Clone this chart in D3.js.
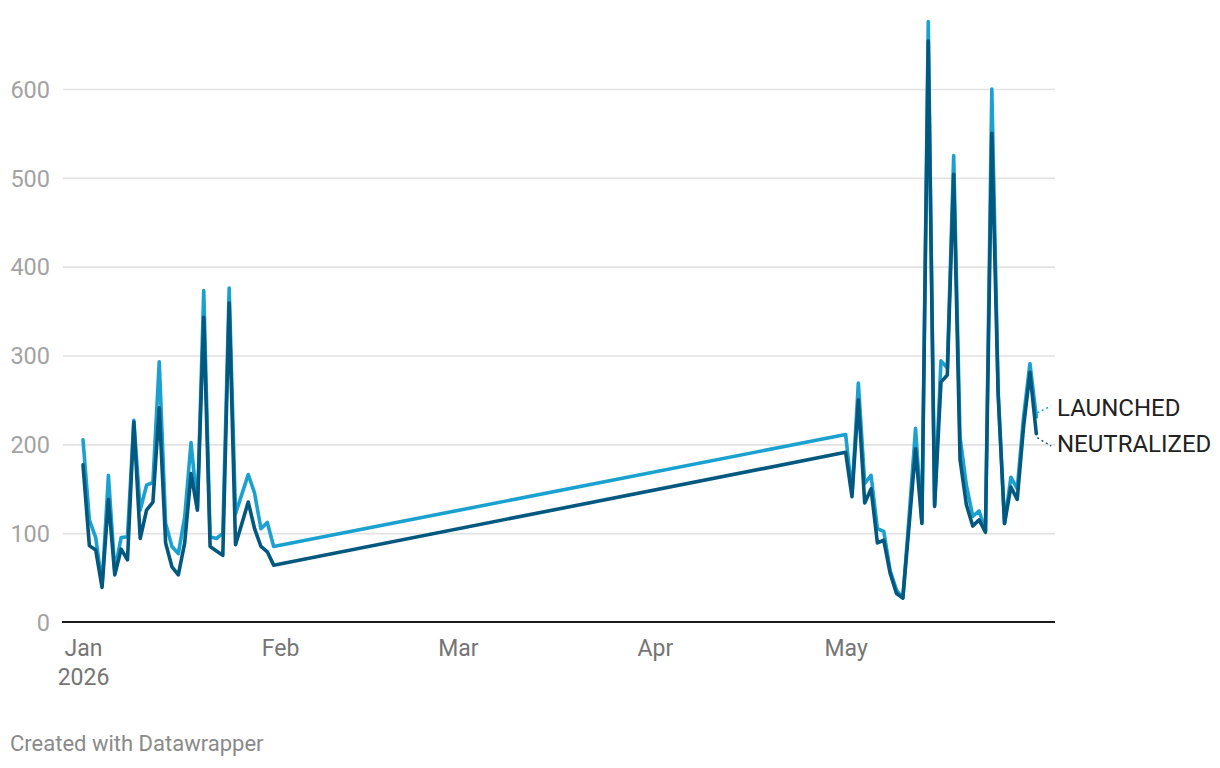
<!DOCTYPE html>
<html>
<head>
<meta charset="utf-8">
<script src="https://cdn.jsdelivr.net/npm/d3@7"></script>
<style>
  body { margin: 0; background: #fff; font-family: Roboto, "Noto Sans", sans-serif; }
  svg text { font-family: Roboto, "Noto Sans", sans-serif; }
</style>
</head>
<body>
<div id="chart"></div>
<script>
// days shown: Jan 1-31 and May 1-31, 2026
var janDays = d3.timeDay.range(new Date(2026, 0, 1), new Date(2026, 1, 1));
var mayDays = d3.timeDay.range(new Date(2026, 4, 1), new Date(2026, 5, 1));

var launchedJan = [205, 115, 95, 42, 165, 58, 95, 96, 227, 126, 154, 157, 293, 111, 85, 77,
                   118, 202, 128, 373, 96, 94, 100, 376, 122, 144, 166, 145, 105, 112, 85];
var neutralizedJan = [177, 86, 81, 39, 138, 53, 82, 70, 225, 94, 126, 135, 241, 89, 62, 53,
                      89, 167, 126, 343, 85, 80, 75, 359, 87, 111, 135, 105, 85, 79, 64];
var launchedMay = [211, 145, 269, 156, 165, 105, 102, 58, 36, 27, 120, 218, 112, 676, 132, 294,
                   286, 525, 208, 154, 119, 125, 103, 600, 260, 111, 163, 150, 231, 291, 231];
var neutralizedMay = [191, 141, 250, 134, 150, 89, 92, 55, 32, 27, 110, 195, 111, 654, 130, 270,
                      278, 504, 183, 132, 108, 115, 101, 550, 255, 111, 152, 138, 220, 281, 212];

var seriesNames = ["LAUNCHED", "NEUTRALIZED"];
var seriesColors = ["#1ba1cf", "#03587f"];
var yTicks = [0, 100, 200, 300, 400, 500, 600];
var xTicks = [new Date(2026, 0, 1), new Date(2026, 1, 1), new Date(2026, 2, 1),
              new Date(2026, 3, 1), new Date(2026, 4, 1)];
var xTickLabels = ["Jan", "Feb", "Mar", "Apr", "May"];

var days = janDays.concat(mayDays);
var launched = launchedJan.concat(launchedMay);
var neutralized = neutralizedJan.concat(neutralizedMay);
var series = [launched, neutralized].map(function(vals, i) {
  return { name: seriesNames[i], color: seriesColors[i],
           values: vals.map(function(v, j) { return { date: days[j], value: v }; }) };
});

var W = 1220, H = 768;
var svg = d3.select("#chart").append("svg")
    .attr("width", W).attr("height", H);

var x = d3.scaleTime()
    .domain([new Date(2026, 0, 1), new Date(2026, 4, 31)])
    .range([83, 1036.3]);
var y = d3.scaleLinear()
    .domain([0, 600])
    .range([622, 89]);

var plotLeft = 63, plotRight = 1055;

// y grid + labels
var yAxis = svg.append("g")
    .attr("transform", "translate(" + plotLeft + ",0)")
    .call(d3.axisLeft(y).tickValues(yTicks).tickSize(-(plotRight - plotLeft)).tickPadding(13));
yAxis.select(".domain").remove();
yAxis.selectAll(".tick line")
    .attr("stroke", "#e2e2e2")
    .attr("stroke-width", 1.6);
yAxis.selectAll(".tick text")
    .attr("fill", "#a3a3a3")
    .attr("font-size", 23.5)
    .attr("dy", "0.35em");
yAxis.selectAll(".tick").filter(function(d) { return d === 0; }).select("line").remove();

// baseline
svg.append("line")
    .attr("x1", plotLeft - 1).attr("x2", plotRight)
    .attr("y1", y(0)).attr("y2", y(0))
    .attr("stroke", "#1a1a1a")
    .attr("stroke-width", 2);

// x labels
var xAxis = svg.append("g")
    .attr("transform", "translate(0," + y(0) + ")")
    .call(d3.axisBottom(x).tickValues(xTicks)
      .tickFormat(function(d, i) { return xTickLabels[i]; })
      .tickSize(0).tickPadding(0));
xAxis.select(".domain").remove();
xAxis.selectAll(".tick text")
    .attr("fill", "#757575")
    .attr("font-size", 23)
    .attr("dy", null)
    .attr("y", 34);
xAxis.selectAll(".tick").filter(function(d, i) { return i === 0; })
  .select("text")
  .append("tspan")
    .attr("x", 0)
    .attr("dy", 29)
    .text("2026");

// lines
var line = d3.line()
    .x(function(d) { return x(d.date); })
    .y(function(d) { return y(d.value); });

svg.append("g").selectAll("path")
  .data(series)
  .enter().append("path")
    .attr("fill", "none")
    .attr("stroke", function(d) { return d.color; })
    .attr("stroke-width", 3.6)
    .attr("stroke-linejoin", "round")
    .attr("stroke-linecap", "round")
    .attr("d", function(d) { return line(d.values); });

// end labels with dotted leaders
var labelY = [408, 444];
series.forEach(function(s, i) {
  var last = s.values[s.values.length - 1];
  svg.append("line")
      .attr("x1", x(last.date) + 1).attr("y1", y(last.value) + (i === 0 ? -4 : 4))
      .attr("x2", 1051).attr("y2", labelY[i] + (i === 0 ? -2 : 2))
      .attr("stroke", s.color)
      .attr("stroke-width", 1.5)
      .attr("stroke-dasharray", "2,3");
  svg.append("text")
      .attr("x", 1057).attr("y", labelY[i])
      .attr("dy", "0.35em")
      .attr("fill", "#222")
      .attr("font-size", 24)
      .text(s.name);
});

svg.append("text")
    .attr("x", 10).attr("y", 751)
    .attr("fill", "#8a8a8a")
    .attr("font-size", 22)
    .text("Created with Datawrapper");
</script>
</body>
</html>
